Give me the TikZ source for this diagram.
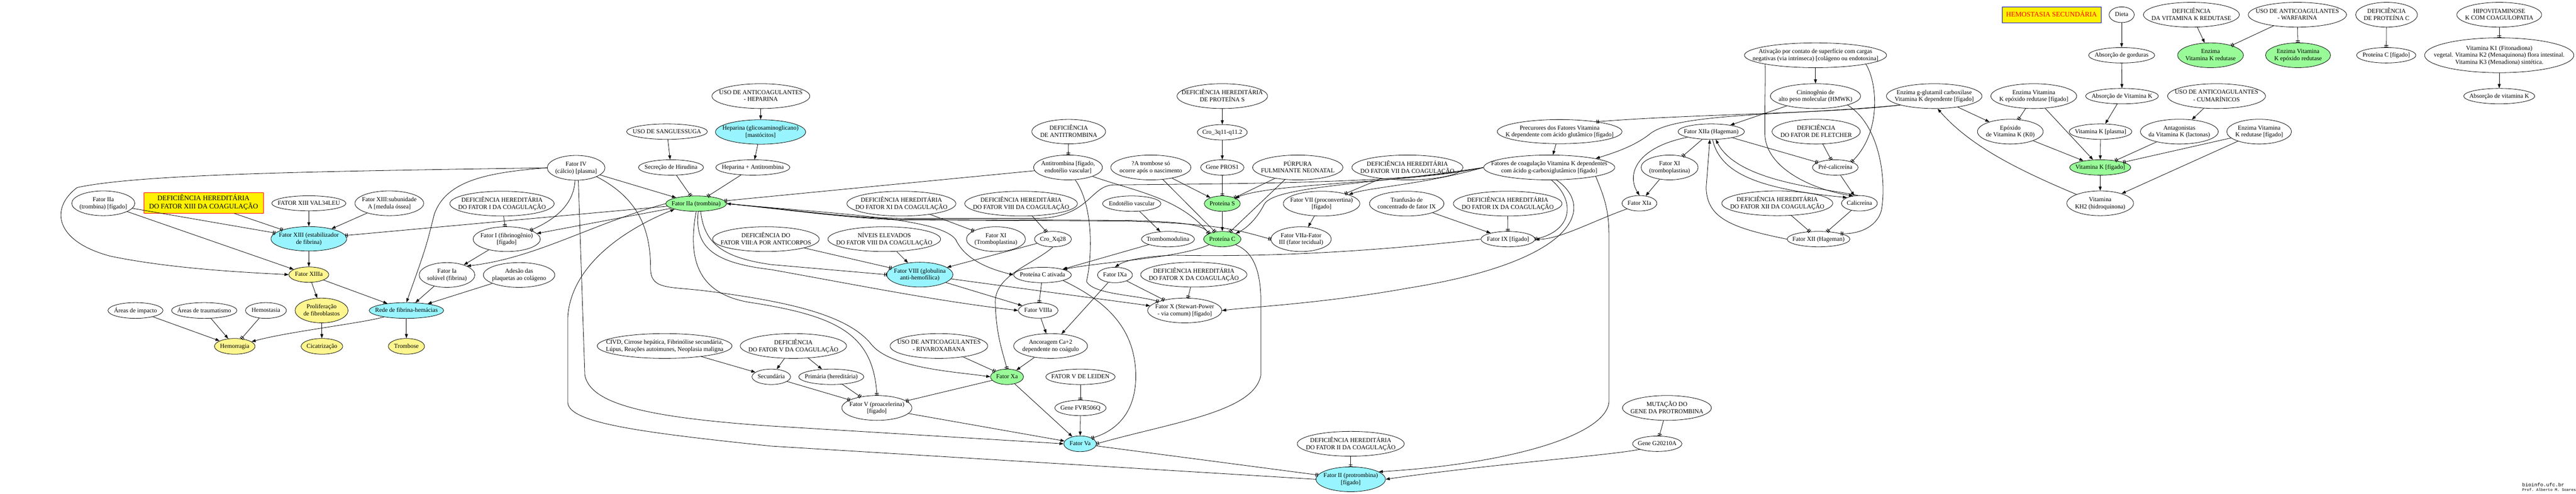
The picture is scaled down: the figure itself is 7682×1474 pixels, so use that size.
\documentclass[tikz,border=0pt]{standalone}
\usepackage{fontspec}
\setmainfont{Liberation Serif}
\setmonofont{Liberation Mono}
\usetikzlibrary{shapes,arrows.meta,positioning}
\definecolor{ciano}{HTML}{98F5FF}
\definecolor{verde}{HTML}{98FB98}
\definecolor{caqui}{HTML}{FFF68F}
% texto sem tamanho proprio: a elipse fica com o tamanho dado por sz
\newcommand{\tx}[1]{\raisebox{-3pt}[0pt][0pt]{\makebox[0pt]{\begin{tabular}{@{}c@{}}#1\end{tabular}}}}

\begin{document}
\begin{tikzpicture}[x=0.02cm,y=-0.02cm,line width=0.7pt,
    every node/.style={ellipse,draw,inner sep=0pt,font=\fontsize{10.4}{11.8}\selectfont},
    sz/.style 2 args={minimum width=#1*0.02cm,minimum height=#2*0.02cm},
    nciano/.style={fill=ciano},
    nverde/.style={fill=verde},
    ncaqui/.style={fill=caqui},
    caixa/.style={rectangle,fill=yellow,font=\fontsize{11.8}{13.5}\selectfont},
    rotulo/.style={rectangle,draw=none,inner sep=0pt,anchor=west},
    ativ/.style={-{Triangle[length=7pt,width=5pt]}},
    inib/.style={-{Bar[width=6.5pt,line width=1.1pt,sep=1.6pt]Bar[width=6.5pt,line width=1.1pt]}}
  ]
  \useasboundingbox (0,0) rectangle (7682,1474);

  % linha 1
  \node[caixa,draw=blue,text=red,sz={295}{48}] (hemosec) at (6118,44) {\tx{HEMOSTASIA SECUNDÁRIA}};
  \node[sz={75}{47}] (dieta) at (6327,44) {\tx{Dieta}};
  \node[sz={286}{74}] (defvkred) at (6535,44) {\tx{DEFICIÊNCIA\\DA VITAMINA K REDUTASE}};
  \node[sz={293}{74}] (warfarina) at (6851,44) {\tx{USO DE ANTICOAGULANTES\\- WARFARINA}};
  \node[sz={184}{74}] (defprotc) at (7117,44) {\tx{DEFICIÊNCIA\\DE PROTEÍNA C}};
  \node[sz={253}{74}] (hipovit) at (7453,44) {\tx{HIPOVITAMINOSE\\K COM COAGULOPATIA}};

  % linha 2
  \node[sz={424}{74}] (ativacao) at (5414,165) {\tx{Ativação por contato de superfície com cargas\\negativas (via intrínseca) [colágeno ou endotoxina]}};
  \node[sz={197}{46}] (absgord) at (6327,165) {\tx{Absorção de gorduras}};
  \node[nverde,sz={196}{74}] (enzvkred) at (6592,165) {\tx{Enzima\\Vitamina K redutase}};
  \node[nverde,sz={194}{74}] (enzvkepox) at (6853,165) {\tx{Enzima Vitamina\\K epóxido redutase}};
  \node[sz={177}{46}] (protcfig) at (7116,165) {\tx{Proteína C [fígado]}};
  \node[sz={445}{104}] (vitk1) at (7453,165) {\tx{Vitamina K1 (Fitonadiona)\\vegetal. Vitamina K2 (Menaquinona) flora intestinal.\\Vitamina K3 (Menadiona) sintética.}};

  % linha 3
  \node[sz={292}{74}] (usohep) at (2269,287) {\tx{USO DE ANTICOAGULANTES\\- HEPARINA}};
  \node[sz={270}{74}] (defprots) at (3645,287) {\tx{DEFICIÊNCIA HEREDITÁRIA\\DE PROTEÍNA S}};
  \node[sz={269}{74}] (cininog) at (5414,287) {\tx{Cininogênio de\\alto peso molecular (HMWK)}};
  \node[sz={285}{74}] (enzggl) at (5768,287) {\tx{Enzima g-glutamil carboxilase\\Vitamina K dependente [fígado]}};
  \node[sz={256}{74}] (enzvkepoxfig) at (6065,287) {\tx{Enzima Vitamina\\K epóxido redutase [fígado]}};
  \node[sz={217}{46}] (absvitk) at (6328,287) {\tx{Absorção de Vitamina K}};
  \node[sz={292}{74}] (cumarin) at (6610,287) {\tx{USO DE ANTICOAGULANTES\\- CUMARÍNICOS}};
  \node[sz={212}{46}] (absvitk2) at (7453,287) {\tx{Absorção de vitamina K}};

  % linha 4
  \node[sz={241}{46}] (usosang) at (1989,393) {\tx{USO DE SANGUESSUGA}};
  \node[nciano,sz={269}{73}] (heparina) at (2268,394) {\tx{Heparina (glicosaminoglicano)\\{}[mastócitos]}};
  \node[sz={220}{73}] (defantitr) at (3187,393) {\tx{DEFICIÊNCIA\\DE ANTITROMBINA}};
  \node[sz={149}{46}] (cro3q) at (3645,395) {\tx{Cro\_3q11-q11.2}};
  \node[sz={372}{72}] (precur) at (4651,393) {\tx{Precurores dos Fatores Vitamina\\K dependente com ácido glutâmico [fígado]}};
  \node[sz={198}{46}] (fxiia) at (5103,393) {\tx{Fator XIIa (Hageman)}};
  \node[sz={263}{74}] (deffletcher) at (5416,393) {\tx{DEFICIÊNCIA\\DO FATOR DE FLETCHER}};
  \node[sz={196}{74}] (epoxido) at (5995,393) {\tx{Epóxido\\de Vitamina K (K0)}};
  \node[sz={187}{46}] (vitkplasma) at (6264,393) {\tx{Vitamina K [plasma]}};
  \node[sz={232}{74}] (antagon) at (6499,393) {\tx{Antagonistas\\da Vitamina K (lactonas)}};
  \node[sz={193}{74}] (enzvkredfig) at (6737,393) {\tx{Enzima Vitamina\\K redutase [fígado]}};

  % linha 5
  \node[sz={172}{74}] (fiv) at (1718,501) {\tx{Fator IV\\(cálcio) [plasma]}};
  \node[sz={194}{46}] (hirudina) at (2001,500) {\tx{Secreção de Hirudina}};
  \node[sz={221}{46}] (hepantitr) at (2245,500) {\tx{Heparina + Antitrombina}};
  \node[sz={205}{74}] (antitromb) at (3185,500) {\tx{Antitrombina [fígado,\\endotélio vascular]}};
  \node[sz={239}{74}] (atrombose) at (3432,500) {\tx{?A trombose só\\ocorre após o nascimento}};
  \node[sz={129}{46}] (genepros1) at (3645,500) {\tx{Gene PROS1}};
  \node[sz={269}{74}] (purpura) at (3870,500) {\tx{PÚRPURA\\FULMINANTE NEONATAL}};
  \node[sz={331}{74}] (defvii) at (4197,500) {\tx{DEFICIÊNCIA HEREDITÁRIA\\DO FATOR VII DA COAGULAÇÃO}};
  \node[sz={391}{74}] (fatoresvk) at (4620,500) {\tx{Fatores de coagulação Vitamina K dependentes\\com ácido g-carboxiglutâmico [fígado]}};
  \node[sz={170}{74}] (fxib) at (4979,500) {\tx{Fator XI\\(tromboplastina)}};
  \node[sz={136}{46}] (precalic) at (5473,500) {\tx{Pré-calicreína}};
  \node[nverde,sz={182}{46}] (vitkfig) at (6263,500) {\tx{Vitamina K [fígado]}};

  % linha 6
  \node[sz={188}{74}] (fiiafig) at (308,607) {\tx{Fator IIa\\(trombina) [fígado]}};
  \node[caixa,draw=red,sz={356}{61}] (defxiii) at (607,606) {\tx{DEFICIÊNCIA HEREDITÁRIA\\DO FATOR XIII DA COAGULAÇÃO}};
  \node[sz={221}{45}] (val34) at (921,607) {\tx{FATOR XIII VAL34LEU}};
  \node[sz={205}{74}] (xiiisuba) at (1161,607) {\tx{Fator XIII:subunidade\\A [medula óssea]}};
  \node[sz={311}{74}] (deffi) at (1497,608) {\tx{DEFICIÊNCIA HEREDITÁRIA\\DO FATOR I DA COAGULAÇÃO}};
  \node[nverde,sz={181}{46}] (fiia) at (2076,608) {\tx{Fator IIa (trombina)}};
  \node[sz={325}{74}] (defxi) at (2688,608) {\tx{DEFICIÊNCIA HEREDITÁRIA\\DO FATOR XI DA COAGULAÇÃO}};
  \node[sz={336}{74}] (defviii) at (3045,608) {\tx{DEFICIÊNCIA HEREDITÁRIA\\DO FATOR VIII DA COAGULAÇÃO}};
  \node[sz={174}{46}] (endotelio) at (3375,608) {\tx{Endotélio vascular}};
  \node[nverde,sz={107}{46}] (prots) at (3645,608) {\tx{Proteína S}};
  \node[sz={228}{74}] (fvii) at (3941,608) {\tx{Fator VII (proconvertina)\\{}[fígado]}};
  \node[sz={222}{74}] (tranfusao) at (4195,608) {\tx{Tranfusão de\\concentrado de fator IX}};
  \node[sz={324}{74}] (defix) at (4496,608) {\tx{DEFICIÊNCIA HEREDITÁRIA\\DO FATOR IX DA COAGULAÇÃO}};
  \node[sz={104}{46}] (fxia) at (4889,607) {\tx{Fator XIa}};
  \node[sz={331}{74}] (defxii) at (5300,607) {\tx{DEFICIÊNCIA HEREDITÁRIA\\DO FATOR XII DA COAGULAÇÃO}};
  \node[sz={107}{46}] (calic) at (5545,607) {\tx{Calicreína}};
  \node[sz={199}{74}] (kh2) at (6263,607) {\tx{Vitamina\\KH2 (hidroquinona)}};

  % linha 7
  \node[nciano,sz={226}{73}] (fxiii) at (921,713) {\tx{Fator XIII (estabilizador\\de fibrina)}};
  \node[sz={200}{74}] (fi) at (1511,714) {\tx{Fator I (fibrinogênio)\\{}[fígado]}};
  \node[sz={318}{74}] (defviiia) at (2284,714) {\tx{DEFICIÊNCIA DO\\FATOR VIII:A POR ANTICORPOS}};
  \node[sz={336}{74}] (niveis) at (2637,714) {\tx{NÍVEIS ELEVADOS\\DO FATOR VIII DA COAGULAÇÃO}};
  \node[sz={176}{74}] (fxi) at (2970,714) {\tx{Fator XI\\(Tromboplastina)}};
  \node[sz={110}{46}] (croxq) at (3140,714) {\tx{Cro\_Xq28}};
  \node[sz={158}{46}] (trombomod) at (3483,714) {\tx{Trombomodulina}};
  \node[nverde,sz={111}{46}] (protc) at (3645,714) {\tx{Proteína C}};
  \node[sz={180}{74}] (fviia) at (3880,714) {\tx{Fator VIIa-Fator\\III (fator tecidual)}};
  \node[sz={161}{46}] (fix) at (4497,714) {\tx{Fator IX [fígado]}};
  \node[sz={187}{46}] (fxii) at (5423,714) {\tx{Fator XII (Hageman)}};

  % linha 8
  \node[ncaqui,sz={119}{46}] (fxiiia) at (921,820) {\tx{Fator XIIIa}};
  \node[sz={166}{74}] (fia) at (1333,821) {\tx{Fator Ia\\solúvel (fibrina)}};
  \node[sz={213}{74}] (adesao) at (1548,821) {\tx{Adesão das\\plaquetas ao colágeno}};
  \node[nciano,sz={197}{74}] (fviii) at (2743,820) {\tx{Fator VIII (globulina\\anti-hemofílica)}};
  \node[sz={172}{46}] (protcat) at (3109,821) {\tx{Proteína C ativada}};
  \node[sz={104}{46}] (fixa) at (3325,821) {\tx{Fator IXa}};
  \node[sz={317}{74}] (defx) at (3560,820) {\tx{DEFICIÊNCIA HEREDITÁRIA\\DO FATOR X DA COAGULAÇÃO}};

  % linha 9
  \node[sz={164}{47}] (areasimp) at (404,927) {\tx{Áreas de impacto}};
  \node[sz={195}{47}] (areastr) at (609,927) {\tx{Áreas de traumatismo}};
  \node[sz={122}{47}] (hemostasia) at (793,927) {\tx{Hemostasia}};
  \node[ncaqui,sz={158}{74}] (prolif) at (959,927) {\tx{Proliferação\\de fibroblastos}};
  \node[nciano,sz={222}{47}] (rede) at (1212,927) {\tx{Rede de fibrina-hemácias}};
  \node[sz={118}{46}] (fviiia) at (3096,927) {\tx{Fator VIIIa}};
  \node[sz={221}{74}] (fx) at (3533,927) {\tx{Fator X (Stewart-Power\\- via comum) [fígado]}};

  % linha 10
  \node[ncaqui,sz={121}{47}] (hemorragia) at (700,1034) {\tx{Hemorragia}};
  \node[ncaqui,sz={124}{47}] (cicatriz) at (960,1034) {\tx{Cicatrização}};
  \node[ncaqui,sz={108}{47}] (trombose) at (1212,1034) {\tx{Trombose}};
  \node[sz={402}{74}] (civd) at (1982,1033) {\tx{CIVD, Cirrose hepática, Fibrinólise secundária,\\Lúpus, Reações autoimunes, Neoplasia maligna}};
  \node[sz={317}{74}] (deffv) at (2366,1033) {\tx{DEFICIÊNCIA\\DO FATOR V DA COAGULAÇÃO}};
  \node[sz={291}{74}] (rivarox) at (2800,1033) {\tx{USO DE ANTICOAGULANTES\\- RIVAROXABANA}};
  \node[sz={220}{74}] (ancoragem) at (3133,1033) {\tx{Ancoragem Ca+2\\dependente no coágulo}};

  % linha 11
  \node[sz={115}{46}] (secund) at (2300,1125) {\tx{Secundária}};
  \node[sz={194}{46}] (primaria) at (2479,1125) {\tx{Primária (hereditária)}};
  \node[nverde,sz={98}{46}] (fxa) at (3003,1125) {\tx{Fator Xa}};
  \node[sz={207}{46}] (leiden) at (3222,1125) {\tx{FATOR V DE LEIDEN}};

  % linha 12
  \node[sz={209}{74}] (fv) at (2615,1218) {\tx{Fator V (proacelerina)\\{}[fígado]}};
  \node[sz={153}{46}] (fvr) at (3222,1218) {\tx{Gene FVR506Q}};
  \node[sz={265}{74}] (mutacao) at (4971,1218) {\tx{MUTAÇÃO DO\\GENE DA PROTROMBINA}};

  % linha 13
  \node[nciano,sz={97}{47}] (fva) at (3221,1325) {\tx{Fator Va}};
  \node[sz={319}{74}] (deffii) at (4028,1325) {\tx{DEFICIÊNCIA HEREDITÁRIA\\DO FATOR II DA COAGULAÇÃO}};
  \node[sz={147}{46}] (g20210a) at (4942,1325) {\tx{Gene G20210A}};

  % linha 14
  \node[nciano,sz={207}{74}] (fii) at (4028,1431) {\tx{Fator II (protrombina)\\{}[fígado]}};

  \node[rotulo,font=\ttfamily\fontsize{8.5}{9}\selectfont] (site) at (7521,1447) {bioinfo.ufc.br};
  \node[rotulo,font=\ttfamily\fontsize{6.6}{7}\selectfont] (prof) at (7521,1462) {Prof. Alberto M. Soares};

  % ligacoes retas
  \path
    (fiiafig) edge[inib] (fxiii)
    (fiiafig) edge[ativ] (fxiiia)
    (defxiii) edge[inib] (fxiii)
    (val34) edge[ativ] (fxiii)
    (xiiisuba) edge[ativ] (fxiii)
    (fiia) edge[inib] (fxiii)
    (fxiii) edge[ativ] (fxiiia)
    (fxiiia) edge[ativ] (prolif)
    (fxiiia) edge[ativ] (rede)
    (fia) edge[ativ] (rede)
    (adesao) edge[ativ] (rede)
    (rede) edge[ativ] (trombose)
    (prolif) edge[ativ] (cicatriz)
    (areasimp) edge[ativ] (hemorragia)
    (areastr) edge[ativ] (hemorragia)
    (hemostasia) edge[inib] (hemorragia)
    (usosang) edge[ativ] (hirudina)
    (usohep) edge[ativ] (heparina)
    (heparina) edge[ativ] (hepantitr)
    (hirudina) edge[inib] (fiia)
    (hepantitr) edge[inib] (fiia)
    (defantitr) edge[inib] (antitromb)
    (antitromb) edge[inib] (fiia)
    (fiv) edge[ativ] (fiia)
    (fiia) edge[ativ] (fi)
    (deffi) edge[inib] (fi)
    (fi) edge[ativ] (fia)
    (defxi) edge[inib] (fxi)
    (defviii) edge[inib] (croxq)
    (endotelio) edge[ativ] (trombomod)
    (trombomod) edge[ativ] (protcat)
    (croxq) edge[ativ] (fviii)
    (niveis) edge[ativ] (fviii)
    (defviiia) edge[inib] (fviii)
    (fviii) edge[ativ] (fviiia)
    (fviii) edge[ativ] (fx)
    (protcat) edge[inib] (fviiia)
    (fixa) edge[ativ] (ancoragem)
    (fixa) edge[inib] (fx)
    (fviiia) edge[ativ] (ancoragem)
    (ancoragem) edge[ativ] (fxa)
    (rivarox) edge[inib] (fxa)
    (fxa) edge[ativ] (fva)
    (fxa) edge[inib] (fv)
    (deffv) edge[ativ] (secund)
    (deffv) edge[ativ] (primaria)
    (secund) edge[inib] (fv)
    (primaria) edge[inib] (fv)
    (civd) edge[ativ] (secund)
    (defx) edge[inib] (fx)
    (fvr) edge[ativ] (fva)
    (leiden) edge[inib] (fvr)
    (fv) edge[ativ] (fva)
    (fva) edge[inib] (fii)
    (defprots) edge[ativ] (cro3q)
    (cro3q) edge[ativ] (genepros1)
    (genepros1) edge[inib] (prots)
    (prots) edge[ativ] (protc)
    (atrombose) edge[ativ] (prots)
    (atrombose) edge[inib] (protc)
    (purpura) edge[inib] (prots)
    (purpura) edge[inib] (protc)
    (defvii) edge[inib] (fvii)
    (fvii) edge[ativ] (fviia)
    (tranfusao) edge[ativ] (fix)
    (defix) edge[inib] (fix)
    (precur) edge[ativ] (fatoresvk)
    (mutacao) edge[inib] (g20210a)
    (deffii) edge[inib] (fii)
    (ativacao) edge[ativ] (cininog)
    (cininog) edge[ativ] (fxiia)
    (fxiia) edge[inib] (fxib)
    (fxib) edge[ativ] (fxia)
    (fxiia) edge[inib] (precalic)
    (deffletcher) edge[inib] (precalic)
    (precalic) edge[ativ] (calic)
    (defxii) edge[inib] (fxii)
    (calic) edge[inib] (fxii)
    (enzggl) edge[ativ] (epoxido)
    (enzvkepoxfig) edge[inib] (epoxido)
    (epoxido) edge[ativ] (vitkfig)
    (enzvkepoxfig) edge[ativ] (vitkfig)
    (dieta) edge[ativ] (absgord)
    (absgord) edge[ativ] (absvitk)
    (absvitk) edge[ativ] (vitkplasma)
    (vitkplasma) edge[ativ] (vitkfig)
    (defvkred) edge[ativ] (enzvkred)
    (warfarina) edge[inib] (enzvkred)
    (warfarina) edge[inib] (enzvkepox)
    (defprotc) edge[inib] (protcfig)
    (hipovit) edge[inib] (vitk1)
    (vitk1) edge[ativ] (absvitk2)
    (cumarin) edge[ativ] (antagon)
    (antagon) edge[inib] (vitkfig)
    (enzvkredfig) edge[inib] (vitkfig)
    (enzvkredfig) edge[ativ] (kh2)
    (vitkfig) edge[ativ] (kh2)
    ;

  % ligacoes curvas
  \draw[ativ] (fiv.west) .. controls (1000,511) and (420,518) .. (230,560) .. controls (150,620) and (160,720) .. (330,765) .. controls (500,800) and (700,812) .. (fxiiia.west);
  \draw[ativ] (fiv.west) .. controls (1450,515) and (1330,540) .. (1295,640) .. controls (1270,740) .. (rede.north);
  \draw[ativ] (rede) .. controls (1080,965) and (860,990) .. (hemorragia);
  \draw[inib] (fiv.-95) .. controls (1712,600) and (1670,650) .. (fi.north east);
  \draw[ativ] (fiia.west) .. controls (1760,670) and (1600,770) .. (fia.north east);
  \draw[ativ] (fiv.-80) -- (1744,1120) .. controls (1760,1200) and (1900,1245) .. (2300,1272) -- (fva.west);
  \draw[ativ] (fii.west) -- (2300,1332) .. controls (1900,1290) and (1693,1262) .. (1693,1200) -- (1693,950) .. controls (1700,800) and (1850,690) .. (fiia.south west);
  \draw[ativ] (fiv.south east) .. controls (1900,590) and (1940,680) .. (1940,800) .. controls (1940,865) and (1990,855) .. (2100,868) .. controls (2350,900) and (2530,940) .. (2600,1030) .. controls (2660,1100) and (2850,1110) .. (fxa.west);
  \draw[inib] (fiia.south) .. controls (2045,800) and (2100,885) .. (2250,905) .. controls (2500,945) and (2605,1000) .. (fv.north);
  \draw[ativ] (fiia.-75) .. controls (2070,740) and (2130,785) .. (2300,805) .. controls (2550,850) and (2800,900) .. (fviiia.west);
  \draw[inib] (fiia.-60) .. controls (2100,730) and (2160,770) .. (2300,790) -- (fviii.west);
  \draw[inib] (fiia.east) .. controls (2400,630) and (2550,652) .. (2700,655) -- (3350,658) .. controls (3560,662) and (3590,675) .. (protc.north west);
  \draw[inib] (fiia.east) .. controls (2400,632) and (2550,654) .. (2700,657) -- (3350,660) .. controls (3650,668) and (3700,690) .. (fviia.west);
  \draw[ativ] (fatoresvk.west) .. controls (4200,548) and (3700,548) .. (3320,552) .. controls (3250,556) and (3250,645) .. (3100,652) -- (2700,652) .. controls (2500,650) and (2350,625) .. (fiia.east);
  \draw[ativ] (fiia.east) .. controls (2500,640) and (2800,650) .. (2850,715) .. controls (2880,780) and (2960,805) .. (protcat.west);
  \draw[inib] (antitromb.south east) .. controls (3380,570) and (3520,590) .. (protc.north west);
  \draw[inib] (antitromb.-60) .. controls (3265,620) and (3255,780) .. (3240,840) .. controls (3260,880) and (3390,880) .. (fx.north west);
  \draw[inib] (protcat.south east) .. controls (3300,900) and (3385,980) .. (3387,1120) .. controls (3388,1240) and (3320,1290) .. (fva.north east);
  \draw[inib] (croxq.south) .. controls (3080,790) and (2970,820) .. (2968,900) .. controls (2970,1000) and (2990,1050) .. (fxa.north);
  \draw[inib] (protc.south east) .. controls (3720,745) and (3760,780) .. (3760,900) -- (3760,1120) .. controls (3740,1230) and (3500,1260) .. (fva.east);
  \draw[ativ] (protc.south west) .. controls (3520,770) and (3300,780) .. (protcat.north east);
  \draw[ativ] (fix.west) .. controls (4100,750) and (3800,768) .. (3500,762) .. controls (3420,765) and (3360,775) .. (fixa.north);
  \draw[ativ] (fatoresvk.-60) .. controls (4760,620) and (4700,780) .. (4200,860) .. controls (3950,905) and (3750,915) .. (fx.east);
  \draw[ativ] (fatoresvk.west) .. controls (4200,548) and (3800,545) .. (prots.north east);
  \draw[ativ] (fatoresvk.west) .. controls (4100,550) and (3800,555) .. (3770,610) .. controls (3750,650) and (3720,680) .. (protc.north east);
  \draw[ativ] (fatoresvk.west) .. controls (4250,550) and (4080,560) .. (fvii.north east);
  \draw[inib] (fatoresvk.-80) .. controls (4700,600) and (4690,690) .. (fix.east);
  \draw[ativ] (fxia.south west) .. controls (4750,660) and (4650,715) .. (fix.east);
  \draw[ativ] (fatoresvk.south east) .. controls (4780,580) and (4798,620) .. (4798,700) -- (4798,1200) .. controls (4790,1300) and (4500,1385) .. (fii.15);
  \draw[ativ] (g20210a.south west) .. controls (4800,1360) and (4450,1385) .. (fii.east);
  \draw[inib] (enzggl.south west) .. controls (5450,340) and (5050,340) .. (precur.15);
  \draw[ativ] (enzggl.south west) .. controls (5350,345) and (5000,335) .. (4920,400) .. controls (4870,440) and (4800,460) .. (fatoresvk.north east);
  \draw[ativ] (ativacao.south west) .. controls (5265,240) and (5262,320) .. (5263,400) .. controls (5265,500) and (5400,565) .. (calic.130);
  \draw[inib] (ativacao.south east) .. controls (5600,250) and (5610,400) .. (precalic.north east);
  \draw[inib] (cininog.south east) .. controls (5615,380) and (5625,560) .. (5610,630) .. controls (5595,680) and (5540,700) .. (fxii.north east);
  \draw[ativ] (fxiia.south west) .. controls (4880,440) and (4850,520) .. (fxia.north);
  \draw[ativ] (fxiia.-80) .. controls (5130,520) and (5250,565) .. (calic.155);
  \draw[ativ] (calic.100) .. controls (5420,560) and (5180,540) .. (fxiia.-60);
  \draw[ativ] (fxii.west) .. controls (5160,680) and (5090,650) .. (5088,560) -- (fxiia.-100);
  \draw[ativ] (kh2.north west) .. controls (6000,500) and (5870,430) .. (enzggl.-75);
\end{tikzpicture}
\end{document}
